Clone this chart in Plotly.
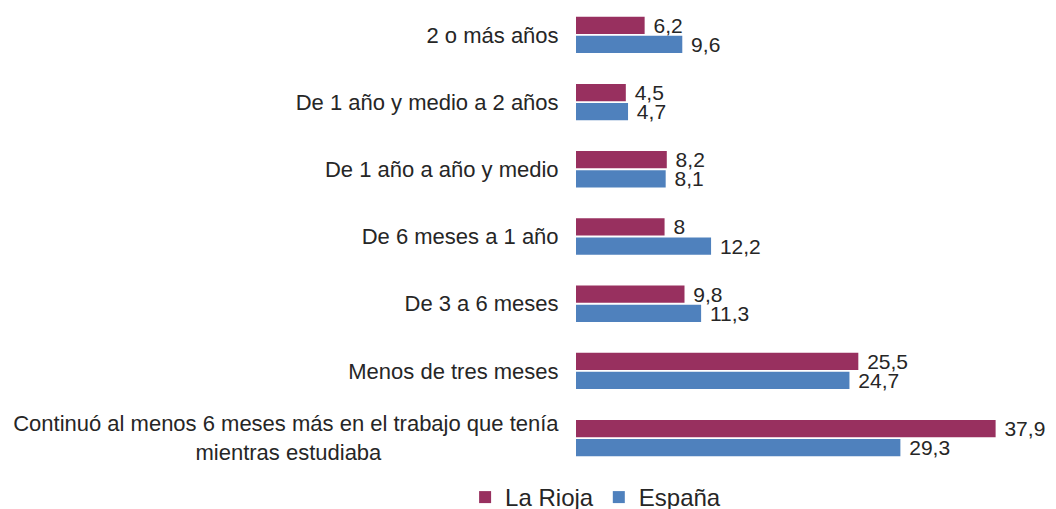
import plotly.graph_objects as go

categorias = [
    "2 o más años",
    "De 1 año y medio a 2 años",
    "De 1 año a año y medio",
    "De 6 meses a 1 año",
    "De 3 a 6 meses",
    "Menos de tres meses",
    "Continuó al menos 6 meses más en el trabajo que tenía<br>mientras estudiaba" + "\u00a0" * 29,
]
la_rioja = [6.2, 4.5, 8.2, 8, 9.8, 25.5, 37.9]
espana = [9.6, 4.7, 8.1, 12.2, 11.3, 24.7, 29.3]

def fmt(v):
    return "\u00a0" + f"{v:g}".replace(".", ",")

fig = go.Figure()
fig.add_trace(go.Bar(
    y=categorias, x=la_rioja, orientation="h", name="La Rioja",
    marker=dict(color="#98305F", line=dict(width=0)),
    text=[fmt(v) for v in la_rioja], textposition="outside", constraintext="none",
    textfont=dict(size=21, color="#262626"), cliponaxis=False,
))
fig.add_trace(go.Bar(
    y=categorias, x=espana, orientation="h", name="España",
    marker=dict(color="#4F81BD", line=dict(width=0)),
    text=[fmt(v) for v in espana], textposition="outside", constraintext="none",
    textfont=dict(size=21, color="#262626"), cliponaxis=False,
))

# the page body adds an 8px margin, so the figure is offset; legend sits partly below the window like the source
fig.update_layout(
    width=1040, height=512,
    margin=dict(l=568, r=7, t=0, b=60),
    barmode="group", bargap=0.43, bargroupgap=0.1,
    plot_bgcolor="white", paper_bgcolor="white",
    font=dict(family="Liberation Sans, Arial, sans-serif", size=22, color="#262626"),
    showlegend=True,
    legend=dict(orientation="h", xref="container", x=0.565, xanchor="center",
                yref="container", y=0, yanchor="bottom",
                font=dict(size=24), traceorder="normal"),
)
fig.update_xaxes(range=[0, 42], visible=False)
fig.update_yaxes(range=[6.326, -0.4], showline=False, showgrid=False,
                 ticks="outside", ticklen=12, tickcolor="white", tickfont=dict(size=22))

fig.write_html("out.html")
